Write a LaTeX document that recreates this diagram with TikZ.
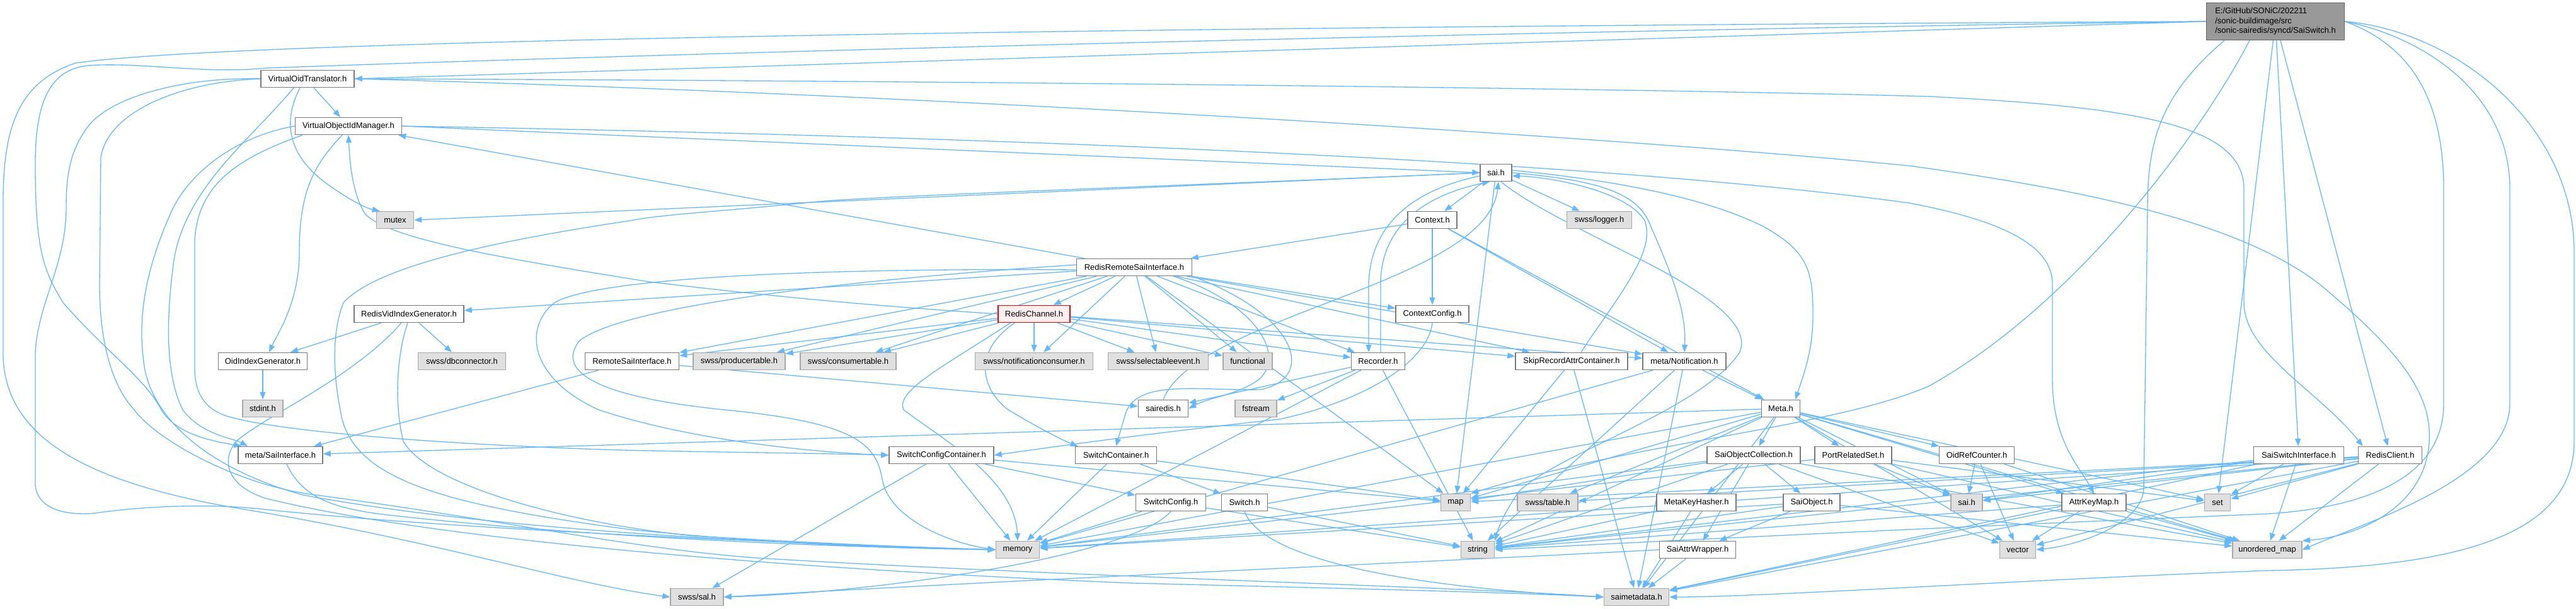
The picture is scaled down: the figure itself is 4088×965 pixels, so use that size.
\documentclass[tikz,border=0pt]{standalone}
\usepackage{fontspec}
\newfontfamily\nf{Liberation Sans}
\usetikzlibrary{arrows.meta}
\definecolor{edgec}{HTML}{63B8FF}
\definecolor{bordc}{HTML}{7A7A7A}
\definecolor{extf}{HTML}{E0E0E0}
\definecolor{extb}{HTML}{A8A8A8}
\definecolor{rootf}{HTML}{999999}
\definecolor{rootb}{HTML}{666666}
\definecolor{redb}{HTML}{FF0000}
\definecolor{redf}{HTML}{FFF0F0}
\pgfdeclarelayer{bg}
\pgfsetlayers{bg,main}
\newcommand\lnks[2]{\foreach \tg in {#2} {\draw[e] (#1) -- (\tg);}}
\begin{document}
\begin{tikzpicture}[x=1bp,y=-1bp,
  nd/.style={draw=bordc,fill=white,line width=1.5bp,minimum height=27bp,inner sep=0pt,font=\nf\fontsize{13}{15.5}\selectfont,text=black},
  ext/.style={nd,draw=extb,fill=extf},
  e/.style={draw=edgec,line width=1.3bp,-{Triangle[length=12bp,width=9bp]}}]
\useasboundingbox (0,0) rectangle (4088,965);
% nodes
\node[nd,minimum width=219bp,minimum height=59bp,fill=rootf,draw=rootb,align=left] (root) at (3611,34) {E:/GitHub/SONiC/202211\\/sonic-buildimage/src\\/sonic-sairedis/syncd/SaiSwitch.h};
\node[nd,minimum width=148bp] (VOT) at (488,125) {VirtualOidTranslator.h};
\node[nd,minimum width=169bp] (VOIM) at (553,200) {VirtualObjectIdManager.h};
\node[nd,minimum width=50bp] (saitop) at (2374,274) {sai.h};
\node[ext,minimum width=59bp] (mutex) at (627,349) {mutex};
\node[nd,minimum width=78bp] (Context) at (2273,349) {Context.h};
\node[ext,minimum width=103bp] (logger) at (2538,349) {swss/logger.h};
\node[nd,minimum width=183bp] (RRSI) at (1800,424) {RedisRemoteSaiInterface.h};
\node[nd,minimum width=174bp] (RVIG) at (649,498) {RedisVidIndexGenerator.h};
\node[nd,minimum width=114bp,draw=redb,fill=redf] (RChan) at (1641,498) {RedisChannel.h};
\node[nd,minimum width=116bp] (CtxCfg) at (2273,498) {ContextConfig.h};
\node[nd,minimum width=141bp] (OidIG) at (417,573) {OidIndexGenerator.h};
\node[ext,minimum width=139bp] (dbconn) at (733,573) {swss/dbconnector.h};
\node[nd,minimum width=149bp] (RemSI) at (1003,573) {RemoteSaiInterface.h};
\node[ext,minimum width=146bp] (prod) at (1173,573) {swss/producertable.h};
\node[ext,minimum width=152bp] (cons) at (1346,573) {swss/consumertable.h};
\node[ext,minimum width=187bp] (notifc) at (1641,573) {swss/notificationconsumer.h};
\node[ext,minimum width=159bp] (selev) at (1838,573) {swss/selectableevent.h};
\node[ext,minimum width=78bp] (func) at (1980,573) {functional};
\node[nd,minimum width=85bp] (Recorder) at (2187,573) {Recorder.h};
\node[nd,minimum width=178bp] (Skip) at (2494,573) {SkipRecordAttrContainer.h};
\node[nd,minimum width=132bp] (Notif) at (2673,573) {meta/Notification.h};
\node[ext,minimum width=64bp] (stdint) at (417,648) {stdint.h};
\node[nd,minimum width=79bp] (sairedis) at (1846,648) {sairedis.h};
\node[ext,minimum width=66bp] (fstream) at (1993,648) {fstream};
\node[nd,minimum width=61bp] (Meta) at (2826,648) {Meta.h};
\node[nd,minimum width=134bp] (SaiIf) at (445,722) {meta/SaiInterface.h};
\node[nd,minimum width=166bp] (SCC) at (1494,722) {SwitchConfigContainer.h};
\node[nd,minimum width=129bp] (SwC) at (1771,722) {SwitchContainer.h};
\node[nd,minimum width=148bp] (SOC) at (2783,722) {SaiObjectCollection.h};
\node[nd,minimum width=122bp] (PRS) at (2941,722) {PortRelatedSet.h};
\node[nd,minimum width=119bp] (ORC) at (3137,722) {OidRefCounter.h};
\node[nd,minimum width=143bp] (SSI) at (3648,722) {SaiSwitchInterface.h};
\node[nd,minimum width=101bp] (RClient) at (3793,722) {RedisClient.h};
\node[nd,minimum width=111bp] (SwCfg) at (1858,797) {SwitchConfig.h};
\node[nd,minimum width=73bp] (Switch) at (1975,797) {Switch.h};
\node[ext,minimum width=47bp] (map) at (2310,797) {map};
\node[ext,minimum width=96bp] (table) at (2456,797) {swss/table.h};
\node[nd,minimum width=126bp] (MKH) at (2692,797) {MetaKeyHasher.h};
\node[nd,minimum width=90bp] (SaiObj) at (2875,797) {SaiObject.h};
\node[ext,minimum width=50bp] (saigray) at (3121,797) {sai.h};
\node[nd,minimum width=102bp] (AKM) at (3323,797) {AttrKeyMap.h};
\node[ext,minimum width=41bp] (set) at (3519,797) {set};
\node[ext,minimum width=69bp] (memory) at (1615,872) {memory};
\node[ext,minimum width=53bp] (string) at (2345,872) {string};
\node[nd,minimum width=121bp] (SAW) at (2694,872) {SaiAttrWrapper.h};
\node[ext,minimum width=57bp] (vector) at (3202,872) {vector};
\node[ext,minimum width=110bp] (umap) at (3598,872) {unordered\_map};
\node[ext,minimum width=84bp] (sal) at (1106,947) {swss/sal.h};
\node[ext,minimum width=103bp] (saimeta) at (2597,947) {saimetadata.h};
% edges
\begin{pgfonlayer}{bg}
% ---- root
\draw[e] (root.west) -- (VOT.east);
\draw[e] (root.west) .. controls (2000,42) and (400,60) .. (120,100) .. controls (30,130) and (5,200) .. (5,320) -- (5,560) .. controls (5,700) and (150,770) .. (400,810) .. controls (700,860) and (900,925) .. (sal.west);
\draw[e] (root.west) .. controls (2500,48) and (1200,80) .. (420,108) .. controls (330,118) and (220,98) .. (140,104) .. controls (80,110) and (56,160) .. (56,260) .. controls (56,400) and (70,430) .. (100,480) .. controls (170,560) and (230,600) .. (256,650) .. controls (280,690) and (340,700) .. ([xshift=6bp]SaiIf.north west);
\draw[e] (3530,64) .. controls (3430,150) and (3408,220) .. (3408,330) -- (3402,773) .. controls (3402,830) and (3300,865) .. (vector.east);
\draw[e] (root.east) .. controls (3850,60) and (3983,150) .. (3983,300) -- (3983,640) .. controls (3983,760) and (3750,830) .. (umap.east);
\draw[e] (root.east) .. controls (3900,50) and (4085,200) .. (4085,400) -- (4085,700) .. controls (4085,850) and (3900,900) .. (3600,905) .. controls (3200,920) and (2800,947) .. (saimeta.east);
\draw[e] (root.east) .. controls (3820,70) and (3878,150) .. (3878,300) -- (3878,640) .. controls (3878,760) and (3750,805) .. (3600,815) .. controls (3000,840) and (2600,860) .. (string.east);
\draw[e] (3570,64) .. controls (3500,200) and (3300,480) .. (3060,613) .. controls (2900,680) and (2600,700) .. (map.north east);
\lnks{root}{SSI,RClient,set}
% ---- VirtualOidTranslator
\draw[e] (VOT.west) .. controls (300,122) and (180,150) .. (140,200) .. controls (110,240) and (105,280) .. (105,330) .. controls (105,420) and (60,480) .. (56,560) -- (56,770) .. controls (60,810) and (110,818) .. (150,814) .. controls (250,800) and (350,800) .. (420,808) .. controls (700,838) and (1200,860) .. (memory.west);
\draw[e] (VOT.west) .. controls (280,130) and (170,180) .. (160,250) -- (158,450) .. controls (158,560) and (185,620) .. (213,650) .. controls (250,700) and (380,770) .. (500,785) .. controls (800,825) and (1000,870) .. (1200,885) .. controls (1700,915) and (2300,930) .. (saimeta.west);
\draw[e] ([xshift=-22bp]VOT.south) .. controls (400,220) and (290,300) .. (275,420) .. controls (262,520) and (265,600) .. (290,650) .. controls (320,690) and (370,695) .. ([xshift=-52bp]SaiIf.north);
\draw[e] ([xshift=-12bp]VOT.south) .. controls (450,190) and (455,240) .. (510,285) .. controls (550,315) and (580,330) .. ([xshift=6bp]mutex.north west);
\draw[e] (VOT.east) .. controls (1500,128) and (2600,140) .. (3060,153) .. controls (3400,170) and (3561,200) .. (3561,300) -- (3561,480) .. controls (3561,560) and (3680,620) .. ([xshift=8bp]RClient.north west);
\draw[e] (VOT.east) .. controls (1500,150) and (2600,220) .. (3030,263) .. controls (3300,300) and (3550,350) .. (3680,450) .. controls (3800,550) and (3860,620) .. (3855,700) .. controls (3850,800) and (3750,850) .. (umap.north east);
\draw[e] ([xshift=10bp]VOT.south) -- (VOIM);
% ---- VirtualObjectIdManager
\draw[e] (VOIM.east) -- (saitop.west);
\draw[e] (VOIM.east) .. controls (1500,215) and (2500,250) .. (3030,322) .. controls (3150,345) and (3257,380) .. (3257,450) -- (3257,600) .. controls (3257,700) and (3300,740) .. (AKM.north);
\draw[e] (VOIM.west) .. controls (380,215) and (300,270) .. (270,340) .. controls (235,420) and (215,500) .. (230,587) .. controls (245,660) and (320,740) .. (480,785) .. controls (800,845) and (1300,865) .. (memory.west);
\draw[e] ([xshift=-73bp]VOIM.south) .. controls (380,250) and (315,290) .. (309,380) -- (309,587) .. controls (310,630) and (330,650) .. (360,660) .. controls (460,690) and (800,710) .. (1030,715) .. controls (1200,718) and (1350,720) .. (SCC.west);
\draw[e] ([xshift=-10bp]VOIM.south) .. controls (500,260) and (475,300) .. (475,400) .. controls (475,480) and (440,530) .. ([xshift=10bp]OidIG.north);
% ---- sai.h (top)
\draw[e] (saitop.west) -- (mutex.east);
\draw[e] (saitop.west) .. controls (2000,290) and (1400,310) .. (1296,320) .. controls (1150,335) and (1050,340) .. (1000,350) .. controls (800,380) and (600,420) .. (545,480) .. controls (525,530) and (530,600) .. (540,650) .. controls (555,760) and (700,800) .. (1000,840) .. controls (1300,870) and (1500,870) .. (memory.west);
\lnks{saitop}{Context,logger,map}
\draw[e] ([yshift=-5bp]saitop.west) .. controls (2250,300) and (2175,350) .. (2172,450) -- ([xshift=-15bp]Recorder.north);
\draw[e] (saitop.east) .. controls (2520,285) and (2600,300) .. (2620,360) .. controls (2660,450) and (2676,500) .. (Notif.north);
\draw[e] ([yshift=4bp]saitop.east) .. controls (2550,285) and (2700,310) .. (2800,360) .. controls (2870,400) and (2877,430) .. (2877,500) .. controls (2877,560) and (2860,600) .. ([xshift=-8bp]Meta.north east);
\draw[e] ([xshift=8bp]saitop.south) .. controls (2420,320) and (2500,360) .. (2600,410) .. controls (2720,470) and (2780,520) .. (2760,560) .. controls (2700,650) and (2470,720) .. (2410,780) .. controls (2390,810) and (2380,830) .. (string.north east);
% ---- Context
\lnks{Context}{RRSI,CtxCfg,Notif,Meta}
% ---- RedisRemoteSaiInterface
\lnks{RRSI}{VOIM,RVIG,RemSI,RChan,prod,cons,notifc,selev,func,Recorder,Skip,Notif,CtxCfg,map}
\draw[e] ([yshift=-4bp]RRSI.west) .. controls (1300,425) and (950,440) .. (880,480) .. controls (830,520) and (840,600) .. (950,650) .. controls (1100,700) and (1300,718) .. (SCC.west);
\draw[e] ([yshift=4bp]RRSI.west) .. controls (1400,440) and (1000,480) .. (920,540) .. controls (880,590) and (950,630) .. (1150,650) .. controls (1350,670) and (1390,700) .. (1400,760) .. controls (1410,820) and (1500,860) .. (memory.west);
\draw[e] ([xshift=-30bp]RRSI.south east) .. controls (1990,480) and (2040,560) .. (2000,600) .. controls (1970,625) and (1920,630) .. (sairedis.east);
\draw[e] (RRSI.south east) .. controls (2060,500) and (2090,600) .. (2000,618) .. controls (1900,620) and (1800,600) .. (1785,660) -- (SwC.north);
% ---- RedisVidIndexGenerator
\lnks{RVIG}{OidIG,dbconn}
\draw[e] ([xshift=-2bp]RVIG.south) .. controls (630,560) and (625,640) .. (640,700) .. controls (680,770) and (900,830) .. (1100,850) .. controls (1300,862) and (1450,868) .. (memory.west);
\draw[e] ([xshift=-12bp]RVIG.south) .. controls (560,600) and (420,660) .. (375,700) .. controls (350,730) and (360,770) .. (420,790) .. controls (700,860) and (1300,905) .. (1800,925) .. controls (2200,935) and (2400,940) .. (saimeta.west);
\lnks{OidIG}{stdint}
\lnks{RemSI}{SaiIf,sairedis}
% ---- RedisChannel
\draw[e] (RChan.west) .. controls (1300,480) and (1100,455) .. (1030,447) .. controls (800,410) and (620,380) .. (580,340) .. controls (560,310) and (555,260) .. (VOIM.south);
\lnks{RChan}{RemSI,prod,cons,notifc,selev,func,Notif,Skip,Recorder}
\draw[e] ([xshift=20bp]RChan.south west) .. controls (1500,580) and (1420,620) .. (1434,650) .. controls (1500,700) and (1610,760) .. (memory.north);
\draw[e] ([xshift=27bp]RChan.south west) .. controls (1540,560) and (1560,620) .. (1600,650) .. controls (1650,680) and (1690,700) .. ([xshift=5bp]SwC.north west);
% ---- others
\draw[e] (CtxCfg.south) .. controls (2265,580) and (2150,640) .. (2030,665) .. controls (1800,690) and (1650,712) .. (SCC.east);
\draw[e] ([xshift=4bp]Recorder.north) -- (2191,450) .. controls (2191,360) and (2260,310) .. ([xshift=-10bp]saitop.south);
\lnks{Recorder}{fstream,sairedis,string,memory}
\draw[e] ([xshift=15bp]Skip.north) .. controls (2560,480) and (2630,400) .. (2610,350) .. controls (2580,300) and (2450,280) .. ([yshift=-5bp]saitop.east);
\lnks{Skip}{map,saimeta}
\lnks{Notif}{Meta,memory,string,saimeta}
\lnks{Meta}{SaiIf,SOC,PRS,ORC,AKM,table,map,set,umap,vector,saigray,memory,string,saimeta}
\draw[e] (sairedis.north) .. controls (1900,500) and (2360,450) .. ([xshift=4bp]saitop.south);
\draw[e] ([xshift=10bp]SaiIf.south) .. controls (480,790) and (530,805) .. (600,815) .. controls (900,850) and (1300,868) .. (memory.west);
\lnks{SCC}{SwCfg,memory,sal,map}
\lnks{SwC}{Switch,memory,map}
\lnks{SwCfg}{memory,string}
\draw[e] (SwCfg.south) .. controls (1800,880) and (1400,940) .. (sal.east);
\lnks{Switch}{string}
\draw[e] (Switch.south) .. controls (2000,880) and (2200,930) .. (saimeta.west);
\lnks{SOC}{MKH,SAW,SaiObj,map,string,memory,vector,umap}
\lnks{PRS}{saigray,set,umap,memory}
\lnks{ORC}{saigray,vector,umap}
\lnks{AKM}{vector,umap,string,saimeta}
\lnks{MKH}{string,saimeta}
\lnks{SaiObj}{SAW,string,umap,memory}
\lnks{SAW}{saimeta}
\draw[e] (SAW.west) .. controls (2300,890) and (1600,920) .. (sal.east);
\lnks{SSI}{saigray,set,umap,saimeta,string}
\lnks{RClient}{saigray,set,vector,umap,saimeta,memory,string,map,table}
\end{pgfonlayer}
\end{tikzpicture}
\end{document}
